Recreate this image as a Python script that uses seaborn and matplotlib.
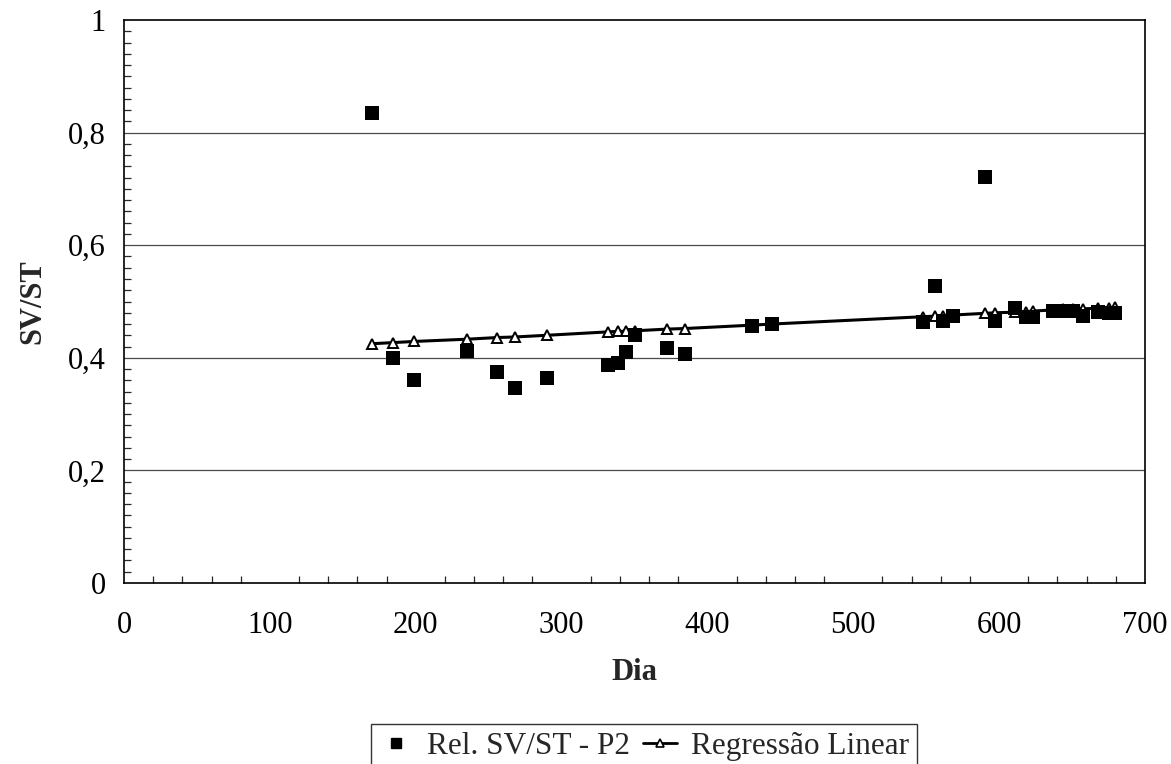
import matplotlib
matplotlib.use("Agg")
import matplotlib.pyplot as plt
from matplotlib.lines import Line2D
from matplotlib.ticker import MultipleLocator, FixedLocator, FuncFormatter
import seaborn as sns
import pandas as pd

# ---- data ----
dia = [170, 184.5, 198.5, 235, 256, 268, 290, 331.5, 339, 344.5, 350.5,
       372.5, 384.5, 430.5, 444.5, 548, 556, 561.5, 568.5, 590.5, 597.5,
       611, 618.5, 623, 637, 644, 650.5, 657.5, 668, 675, 679.5]
rel_sv_st = [0.835, 0.400, 0.361, 0.412, 0.374, 0.346, 0.364, 0.387, 0.390,
             0.410, 0.441, 0.4175, 0.406, 0.456, 0.460, 0.464, 0.528, 0.465,
             0.474, 0.721, 0.465, 0.489, 0.472, 0.472, 0.484, 0.484, 0.484,
             0.474, 0.482, 0.479, 0.479]
regressao = [0.425, 0.427, 0.429, 0.433, 0.436, 0.437, 0.440, 0.446, 0.447,
             0.447, 0.448, 0.451, 0.452, 0.458, 0.460, 0.473, 0.474, 0.475,
             0.476, 0.479, 0.480, 0.481, 0.482, 0.483, 0.485, 0.486, 0.486,
             0.487, 0.488, 0.489, 0.490]
y_ticks = [0, 0.2, 0.4, 0.6, 0.8, 1.0]
x_ticks = [0, 100, 200, 300, 400, 500, 600, 700]
label_scatter = "Rel. SV/ST - P2"
label_line = "Regressão Linear"

df = pd.DataFrame({"Dia": dia, "SVST": rel_sv_st, "Reg": regressao})

sns.set_theme(style="white")
plt.rcParams["font.family"] = ["Liberation Serif", "DejaVu Serif"]

W, H = 1171, 764
fig = plt.figure(figsize=(W / 100, H / 100), dpi=100)
left, right, top, bottom = 124, 1145, 20, 583
ax = fig.add_axes([left / W, 1 - bottom / H, (right - left) / W, (bottom - top) / H])

sns.lineplot(data=df, x="Dia", y="Reg", ax=ax, color="black", linewidth=2.2,
             marker="^", markersize=7, markerfacecolor="white",
             markeredgecolor="black", markeredgewidth=1.4, estimator=None,
             sort=True, zorder=3)
sns.scatterplot(data=df, x="Dia", y="SVST", ax=ax, marker="s", color="black",
                s=90, linewidth=0, zorder=4)

ax.set_xlim(0, 700)
ax.set_ylim(0, 1)
ax.xaxis.set_major_locator(FixedLocator(x_ticks))
ax.yaxis.set_major_locator(FixedLocator(y_ticks))
ax.xaxis.set_minor_locator(MultipleLocator(20))
ax.yaxis.set_minor_locator(MultipleLocator(0.02))

def yfmt(v, pos):
    if abs(v) < 1e-9:
        return "0"
    if abs(v - 1) < 1e-9:
        return "1"
    return f"{v:.1f}".replace(".", ",")

ax.yaxis.set_major_formatter(FuncFormatter(yfmt))

for sp in ax.spines.values():
    sp.set_color("black")
    sp.set_linewidth(1.2)

ax.grid(False)
for v in y_ticks[1:-1]:
    ax.axhline(v, color="#4a4a4a", linewidth=0.9, zorder=1)

ax.tick_params(axis="x", which="major", direction="inout", length=14, width=1.1,
               labelsize=22, pad=13, colors="black")
ax.tick_params(axis="x", which="minor", direction="in", length=5, width=0.9,
               bottom=True)
ax.tick_params(axis="y", which="major", direction="out", length=9, width=1.1,
               labelsize=22, pad=4, colors="black")
ax.tick_params(axis="y", which="minor", direction="in", length=5, width=0.9,
               left=True)

ax.set_xlabel("Dia", fontsize=22, fontweight="bold")
ax.set_ylabel("SV/ST", fontsize=22, fontweight="bold")
ax.xaxis.set_label_coords(0.5, (bottom - 673) / (bottom - top))
ax.xaxis.label.set_va("center")
ax.yaxis.set_label_coords((33 - left) / (right - left), 0.5)
ax.yaxis.label.set_va("center")

handles = [
    Line2D([], [], linestyle="none", marker="s", color="black", markersize=7),
    Line2D([], [], color="black", linewidth=2, marker="^", markersize=6,
           markerfacecolor="white", markeredgecolor="black", markeredgewidth=1.2),
]
leg = fig.legend(handles, [label_scatter, label_line], loc="upper left",
                 bbox_to_anchor=(371 / W, 1 - 724 / H), bbox_transform=fig.transFigure,
                 ncol=2, fontsize=22.5, frameon=True, fancybox=False,
                 handlelength=1.1, handletextpad=0.45, columnspacing=0.4,
                 borderaxespad=0, borderpad=0.25)
leg.get_frame().set_edgecolor("black")
leg.get_frame().set_linewidth(1.0)

fig.savefig("out.png", dpi=100, facecolor="white")
